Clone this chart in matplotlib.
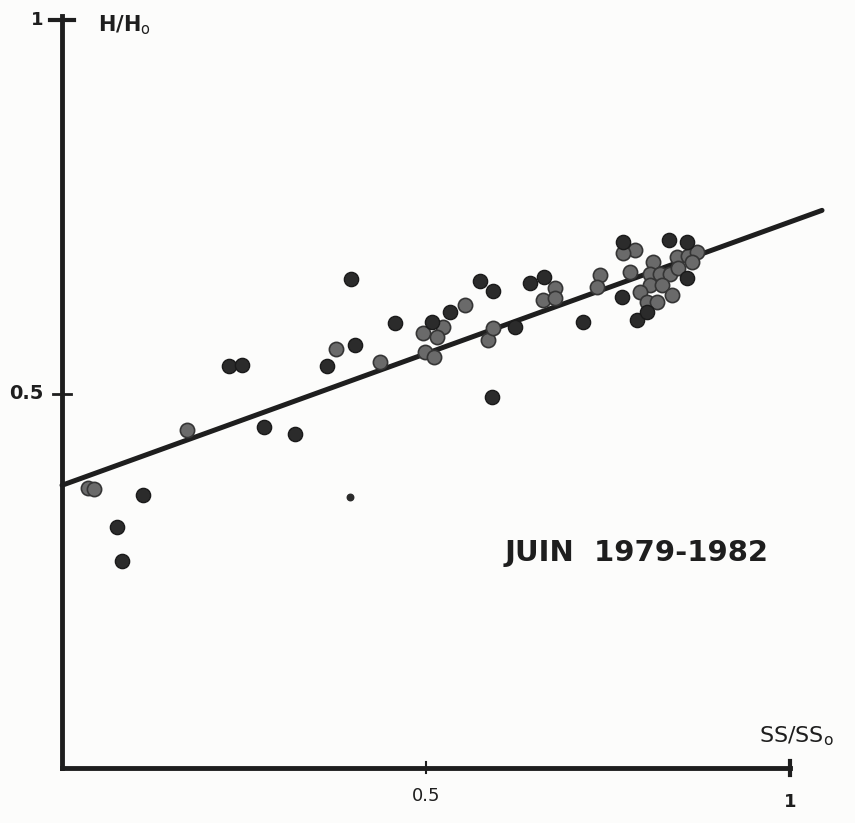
import matplotlib
matplotlib.use('Agg')
import matplotlib.pyplot as plt
import numpy as np

# relative sunshine duration SS/SS0 and relative irradiation H/H0 (June 1979-1982)
ss_dark = [0.111, 0.076, 0.082, 0.277, 0.320, 0.229, 0.247, 0.397, 0.457,
           0.402, 0.364, 0.508, 0.533, 0.574, 0.591, 0.622, 0.716, 0.771,
           0.834, 0.859, 0.790, 0.804, 0.769, 0.643, 0.662, 0.592, 0.859]
hh_dark = [0.365, 0.322, 0.277, 0.456, 0.447, 0.537, 0.539, 0.654, 0.595,
           0.566, 0.537, 0.596, 0.610, 0.651, 0.496, 0.590, 0.596, 0.703,
           0.706, 0.703, 0.599, 0.610, 0.630, 0.648, 0.656, 0.638, 0.655]

ss_grey = [0.036, 0.044, 0.172, 0.376, 0.437, 0.496, 0.523, 0.499, 0.511,
           0.515, 0.554, 0.585, 0.592, 0.677, 0.661, 0.677, 0.739, 0.735,
           0.787, 0.771, 0.780, 0.812, 0.845, 0.860, 0.872, 0.808, 0.821,
           0.835, 0.808, 0.824, 0.794, 0.804, 0.817, 0.838, 0.865, 0.846]
hh_grey = [0.374, 0.373, 0.452, 0.560, 0.543, 0.582, 0.590, 0.556, 0.549,
           0.576, 0.619, 0.572, 0.588, 0.642, 0.626, 0.628, 0.659, 0.643,
           0.693, 0.689, 0.663, 0.676, 0.683, 0.685, 0.690, 0.660, 0.660,
           0.660, 0.646, 0.646, 0.636, 0.623, 0.623, 0.633, 0.676, 0.668]

ss_small = [0.396]
hh_small = [0.362]

# fitted line H/H0 = a + b * SS/SS0
a, b = 0.378, 0.352
fit_x = [0.0, 1.044]

ink = '#1e1e1e'

fig = plt.figure(figsize=(8.55, 8.23), dpi=100, facecolor='#fcfcfb')
ax = fig.add_axes([0, 0, 1, 1])
ax.set_facecolor('#fcfcfb')
ax.set_xlim(-0.0852, 1.0893)
ax.set_ylim(-0.0735, 1.0267)

for s in ['top', 'right']:
    ax.spines[s].set_visible(False)
ax.spines['left'].set_position(('data', 0))
ax.spines['bottom'].set_position(('data', 0))
ax.spines['left'].set_bounds(0, 1.005)
ax.spines['bottom'].set_bounds(0, 1.0)
ax.spines['left'].set_linewidth(3.5)
ax.spines['bottom'].set_linewidth(3.5)
ax.spines['left'].set_color(ink)
ax.spines['bottom'].set_color(ink)
ax.set_xticks([])
ax.set_yticks([])

# ticks
ax.plot([-0.012, 0.012], [0.5, 0.5], color=ink, lw=2)
ax.plot([-0.016, 0.016], [1.0, 1.0], color=ink, lw=3)
ax.plot([0.5, 0.5], [-0.006, 0.008], color=ink, lw=1.5)
ax.plot([1.0, 1.0], [-0.01, 0.01], color=ink, lw=3)

xs = np.array(fit_x)
ax.plot(xs, a + b * xs, color=ink, lw=3.6, solid_capstyle='round', zorder=2)

ax.scatter(ss_grey, hh_grey, s=105, color='#6a6a6a', edgecolors='#353535',
           linewidths=1.2, zorder=3)
ax.scatter(ss_dark, hh_dark, s=105, color='#2b2b2b', edgecolors='#1a1a1a',
           linewidths=1.0, zorder=4)
ax.scatter(ss_small, hh_small, s=22, color='#2b2b2b', zorder=4)

ax.text(-0.026, 1.0, '1', ha='right', va='center', fontsize=13,
        fontweight='bold', color=ink)
ax.text(-0.026, 0.5, '0.5', ha='right', va='center', fontsize=14,
        fontweight='bold', color=ink)
ax.text(0.5, -0.026, '0.5', ha='center', va='top', fontsize=13, color=ink)
ax.text(1.0, -0.033, '1', ha='center', va='top', fontsize=13,
        fontweight='bold', color=ink)
ax.text(0.05, 0.993, 'H/H$_\\mathrm{o}$', ha='left', va='center',
        fontsize=15, fontweight='bold', color=ink)
ax.text(0.958, 0.042, 'SS/SS$_\\mathrm{o}$', ha='left', va='center',
        fontsize=16, color=ink)
ax.text(0.608, 0.288, 'JUIN  1979-1982', ha='left', va='center',
        fontsize=21, fontweight='semibold', color=ink)

fig.savefig('out.png', dpi=100, facecolor=fig.get_facecolor())
